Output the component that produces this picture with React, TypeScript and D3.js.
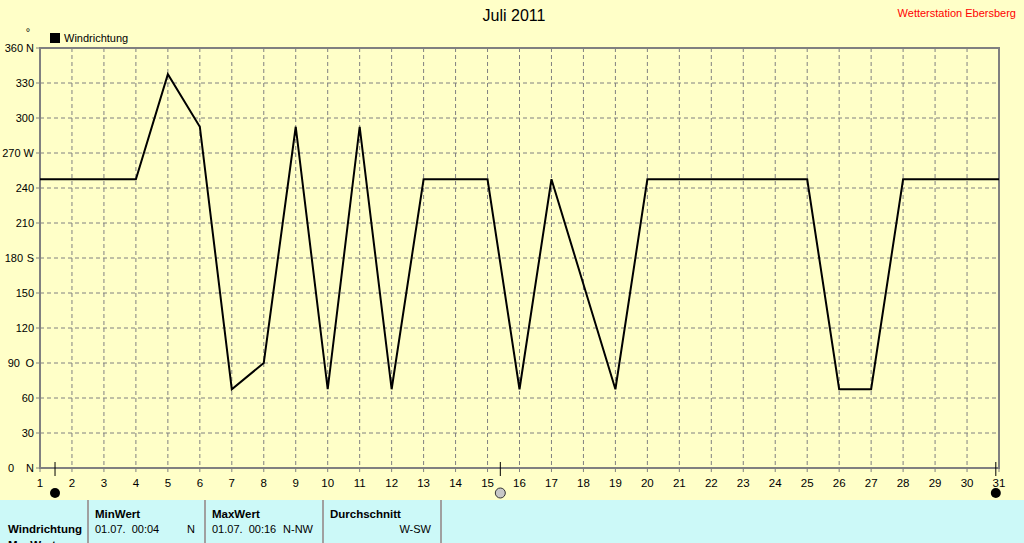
import React from "react";
import * as d3 from "d3";

const days = d3.range(1, 32);
const windDir = [247.5, 247.5, 247.5, 247.5, 337.5, 292.5, 67.5, 90, 292.5, 67.5, 292.5, 67.5, 247.5, 247.5, 247.5, 67.5, 247.5, 157.5, 67.5, 247.5, 247.5, 247.5, 247.5, 247.5, 247.5, 67.5, 67.5, 247.5, 247.5, 247.5, 247.5];
const yTicks = [0, 30, 60, 90, 120, 150, 180, 210, 240, 270, 300, 330, 360];
const yTickLetters: Record<number, string> = { 0: "N", 90: "O", 180: "S", 270: "W", 360: "N" };
const title = "Juli 2011";
const station = "Wetterstation Ebersberg";
const seriesName = "Windrichtung";
const tableCols = [
  { head: "MinWert", date: "01.07.  00:04", val: "N" },
  { head: "MaxWert", date: "01.07.  00:16", val: "N-NW" },
  { head: "Durchschnitt", date: "", val: "W-SW" },
];

const W = 1024, H = 543;
const L = 40, R = 999, T = 48, B = 468;
const BG = "#FFFFC8";
const CYAN = "#CCF9F8";
const GRAY = "#808080";
const FONT = "'Liberation Sans', Arial, sans-serif";

export default function App() {
  const x = d3.scaleLinear().domain([1, 31]).range([L, R]);
  const y = d3.scaleLinear().domain([0, 360]).range([B, T]);
  const line = d3.line<number>().x((_, i) => x(days[i])).y((v) => y(v));
  const colX = [88, 205, 323, 441];
  const numEnd: Record<number, number> = { 0: 14, 90: 20, 180: 23, 270: 20.5, 360: 23 };
  return (
    <svg width={W} height={H} style={{ position: "absolute", left: 0, top: 0, display: "block" }} fontFamily={FONT}>
      <rect x={0} y={0} width={W} height={H} fill={BG} />
      <text x={514} y={21} fontSize={16} textAnchor="middle" fill="#000">{title}</text>
      <text x={1016} y={17} fontSize={11} textAnchor="end" fill="#FF0000">{station}</text>
      <text x={28} y={36} fontSize={11} textAnchor="middle" fill="#000">°</text>
      <rect x={50} y={33} width={10} height={10} fill="#000" />
      <text x={64} y={42} fontSize={11} fill="#000">{seriesName}</text>
      {days.slice(1, 30).map((d) => (
        <line key={"vg" + d} x1={x(d)} x2={x(d)} y1={T} y2={B} stroke={GRAY} strokeWidth={1} strokeDasharray="4,3" />
      ))}
      {yTicks.slice(1, 12).map((v) => (
        <line key={"hg" + v} x1={L} x2={R} y1={y(v)} y2={y(v)} stroke={GRAY} strokeWidth={1} strokeDasharray="4,3" />
      ))}
      <rect x={L} y={T} width={R - L} height={B - T} fill="none" stroke={GRAY} strokeWidth={2} />
      {yTicks.map((v) => (
        <g key={"yt" + v}>
          <line x1={L - 4} x2={L} y1={y(v)} y2={y(v)} stroke={GRAY} strokeWidth={1} />
          {yTickLetters[v] ? (
            <>
              <text x={numEnd[v]} y={y(v) + 4} fontSize={11} textAnchor="end">{v}</text>
              <text x={34} y={y(v) + 4} fontSize={11} textAnchor="end">{yTickLetters[v]}</text>
            </>
          ) : (
            <text x={34} y={y(v) + 4} fontSize={11} textAnchor="end">{v}</text>
          )}
        </g>
      ))}
      {days.map((d) => (
        <g key={"xt" + d}>
          <line x1={x(d)} x2={x(d)} y1={B} y2={B + 4} stroke={GRAY} strokeWidth={1} />
          <text x={x(d)} y={487} fontSize={11.5} textAnchor="middle">{d}</text>
        </g>
      ))}
      <path d={line(windDir) || ""} fill="none" stroke="#000" strokeWidth={2} strokeLinejoin="miter" />
      {[x(1.47), x(15.4), x(30.9)].map((mx, i) => (
        <line key={"mk" + i} x1={mx} x2={mx} y1={462} y2={476} stroke="#000" strokeWidth={1} />
      ))}
      <circle cx={x(1.47)} cy={493} r={5} fill="#000" />
      <circle cx={x(15.4)} cy={493} r={5} fill="#C8C8C8" stroke="#333" strokeWidth={1} />
      <circle cx={x(30.9)} cy={493} r={5} fill="#000" />
      <rect x={0} y={500} width={W} height={H - 500} fill={CYAN} />
      {colX.map((cx) => (
        <line key={"cx" + cx} x1={cx} x2={cx} y1={500} y2={H} stroke="#A0A0A0" strokeWidth={2} />
      ))}
      <text x={8} y={533} fontSize={11.5} fontWeight="bold">{seriesName}</text>
      <text x={8} y={549} fontSize={11.5} fontWeight="bold">MaxWert</text>
      {tableCols.map((c, i) => (
        <g key={"tc" + i}>
          <text x={colX[i] + 7} y={518} fontSize={11.5} fontWeight="bold">{c.head}</text>
          <text x={colX[i] + 7} y={533} fontSize={11} style={{ whiteSpace: "pre" }}>{c.date}</text>
          <text x={colX[i + 1] - 10} y={533} fontSize={11} textAnchor="end">{c.val}</text>
        </g>
      ))}
    </svg>
  );
}
